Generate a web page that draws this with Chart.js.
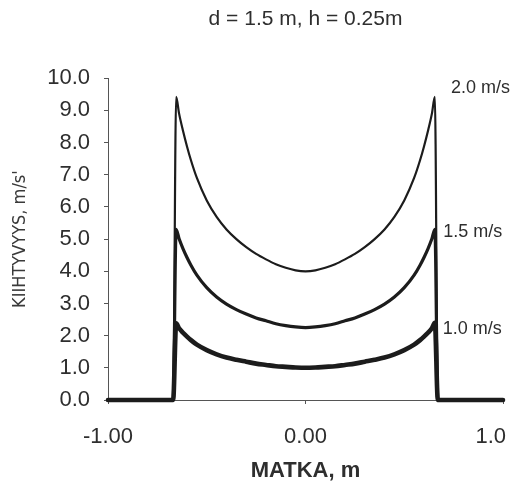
<!DOCTYPE html>
<html>
<head>
<meta charset="utf-8">
<script src="https://cdn.jsdelivr.net/npm/chart.js@4/dist/chart.umd.min.js"></script>
<style>
  html, body { margin: 0; padding: 0; background: #fff; }
  #wrap { width: 514px; height: 486px; }
</style>
</head>
<body>
<div id="wrap"><canvas id="kiihtyvyys"></canvas></div>
<script>
// matka (m)
const matka = [-1, -0.67, -0.655, -0.64, -0.62, -0.60, -0.58, -0.55, -0.50, -0.45, -0.40, -0.35, -0.30,
  -0.25, -0.20, -0.15, -0.10, -0.05, 0, 0.05, 0.10, 0.15, 0.20, 0.25, 0.30, 0.35, 0.40, 0.45, 0.50,
  0.55, 0.58, 0.60, 0.62, 0.64, 0.655, 0.67, 1];

// kiihtyvyys (m/s²) eri nopeuksilla
const v20 = [0, 0, 9.42, 8.90, 8.36, 7.88, 7.45, 6.90, 6.20, 5.69, 5.30, 5.00, 4.75,
  4.54, 4.37, 4.22, 4.11, 4.03, 4.00, 4.03, 4.11, 4.22, 4.37, 4.54, 4.75, 5.00, 5.30, 5.69, 6.20,
  6.90, 7.45, 7.88, 8.36, 8.90, 9.42, 0, 0];
const v15 = [0, 0, 5.30, 5.01, 4.70, 4.43, 4.19, 3.88, 3.49, 3.20, 2.98, 2.81, 2.67,
  2.55, 2.46, 2.37, 2.31, 2.27, 2.25, 2.27, 2.31, 2.37, 2.46, 2.55, 2.67, 2.81, 2.98, 3.20, 3.49,
  3.88, 4.19, 4.43, 4.70, 5.01, 5.30, 0, 0];
const v10 = [0, 0, 2.38, 2.23, 2.09, 1.97, 1.86, 1.72, 1.55, 1.42, 1.32, 1.25, 1.19,
  1.13, 1.09, 1.05, 1.03, 1.01, 1.00, 1.01, 1.03, 1.05, 1.09, 1.13, 1.19, 1.25, 1.32, 1.42, 1.55,
  1.72, 1.86, 1.97, 2.09, 2.23, 2.40, 0, 0];

const nopeudet = ['2.0 m/s', '1.5 m/s', '1.0 m/s'];
const nimiX = [0.737, 0.697, 0.695];
const nimiY = [9.7, 5.23, 2.2];
const xTicks = ['-1.00', '0.00', '1.0    '];

const viiva = '#1c1c1c';
const teksti = '#2e2e2e';
const fontti = "'Liberation Sans', Arial, sans-serif";

const pisteet = arr => arr.map((y, i) => ({ x: matka[i], y: y }));

// nopeuksien nimet käyrien oikeaan päähän
const nimetPlugin = {
  id: 'nimet',
  afterDatasetsDraw(chart) {
    const { ctx, scales: { x, y } } = chart;
    ctx.save();
    ctx.font = '18px ' + fontti;
    ctx.fillStyle = teksti;
    ctx.textAlign = 'left';
    ctx.textBaseline = 'middle';
    nopeudet.forEach((t, i) => {
      ctx.fillText(t, x.getPixelForValue(nimiX[i]), y.getPixelForValue(nimiY[i]));
    });
    ctx.restore();
  }
};

const sarja = (data, w) => ({
  data: pisteet(data),
  showLine: true,
  clip: false,
  borderColor: viiva,
  borderWidth: w,
  pointRadius: 0,
  cubicInterpolationMode: 'monotone',
  borderCapStyle: 'round',
  borderJoinStyle: 'round'
});

new Chart(document.getElementById('kiihtyvyys'), {
  type: 'scatter',
  data: {
    datasets: [sarja(v20, 2.2), sarja(v15, 3.2), sarja(v10, 4.6)]
  },
  options: {
    responsive: true,
    maintainAspectRatio: false,
    animation: false,
    layout: { padding: { left: 0, right: 11, top: 0, bottom: 0 } },
    plugins: {
      legend: { display: false },
      tooltip: { enabled: false },
      title: {
        display: true,
        text: 'd = 1.5 m, h = 0.25m',
        fullSize: false,
        color: teksti,
        font: { family: fontti, size: 21, weight: 'normal' },
        padding: { top: 7, bottom: 46 }
      }
    },
    scales: {
      x: {
        type: 'linear',
        min: -1,
        max: 1,
        afterFit(scale) {
          scale.paddingLeft = 0;
          scale.paddingRight = 0;
          scale.height = 86;
        },
        afterBuildTicks(scale) {
          scale.ticks = [-1, 0, 1].map(v => ({ value: v }));
        },
        ticks: {
          color: teksti,
          font: { family: fontti, size: 22 },
          padding: 20,
          maxRotation: 0,
          callback: (v, i) => xTicks[i]
        },
        grid: { drawOnChartArea: false, tickLength: 4, color: '#555' },
        border: { color: '#555', width: 1 },
        title: {
          display: true,
          text: 'MATKA, m',
          color: teksti,
          font: { family: fontti, size: 22, weight: 'bold' },
          padding: { top: 0, bottom: 2 }
        }
      },
      y: {
        min: 0,
        max: 10,
        afterFit(scale) {
          scale.width = 108;
        },
        ticks: {
          stepSize: 1,
          color: teksti,
          font: { family: fontti, size: 22 },
          padding: 14,
          callback: v => v.toFixed(1)
        },
        grid: { drawOnChartArea: false, tickLength: 4, color: '#555' },
        border: { color: '#555', width: 1 },
        title: {
          display: true,
          text: "KIIHTYVYYS, m/s'",
          color: '#3a3a3a',
          font: { family: "'Liberation Sans Narrow', 'DejaVu Sans Condensed', " + fontti, size: 18 },
          padding: { top: 10, bottom: 0 }
        }
      }
    }
  },
  plugins: [nimetPlugin]
});
</script>
</body>
</html>
